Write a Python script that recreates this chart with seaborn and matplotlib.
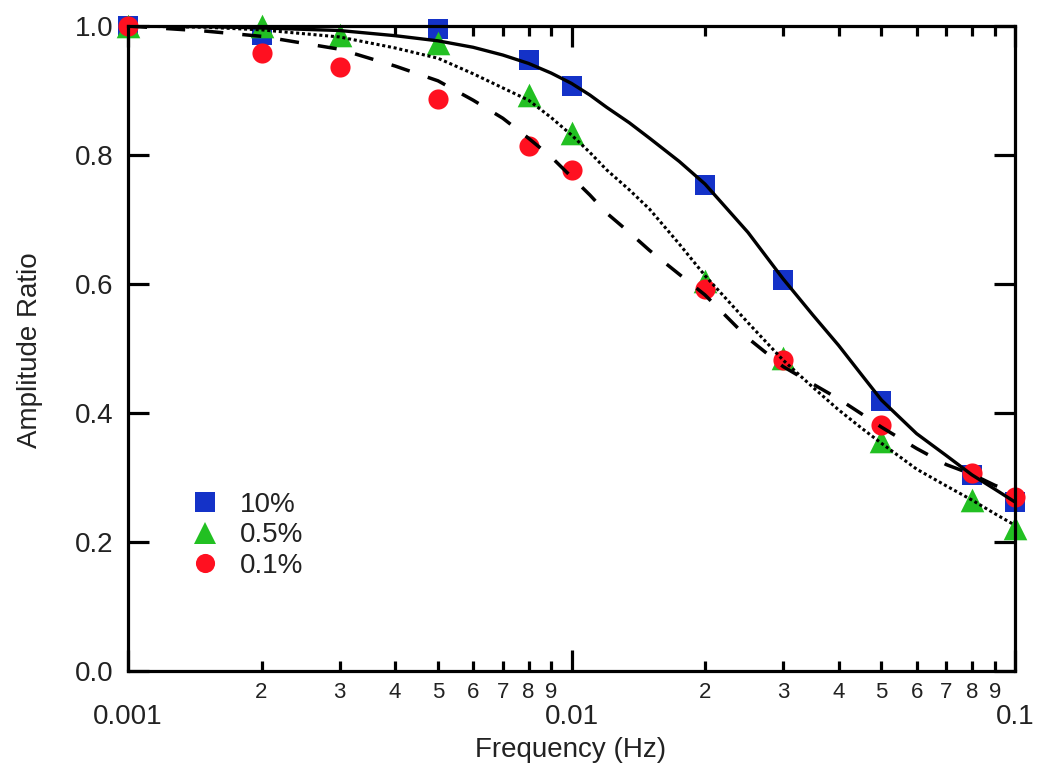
import numpy as np
import pandas as pd
import matplotlib
matplotlib.use("Agg")
import matplotlib.pyplot as plt
from matplotlib.ticker import FixedLocator, FixedFormatter, NullFormatter
from matplotlib.lines import Line2D
import seaborn as sns

# ---- measured amplitude ratios ----
freq = [0.001, 0.002, 0.003, 0.005, 0.008, 0.01, 0.02, 0.03, 0.05, 0.08, 0.1]
amp_10 = [1.000, 0.986, None, 0.996, 0.947, 0.907, 0.753, 0.606, 0.419, 0.304, 0.262]
amp_05 = [1.000, 1.000, 0.986, 0.974, 0.893, 0.834, 0.605, 0.486, 0.357, 0.265, 0.222]
amp_01 = [1.000, 0.958, 0.936, 0.887, 0.814, 0.777, 0.592, 0.482, 0.381, 0.307, 0.270]

# ---- model curves ----
curve_freq = [0.001, 0.0015, 0.002, 0.003, 0.004, 0.005, 0.006, 0.007, 0.008, 0.009,
              0.01, 0.011, 0.012, 0.0135, 0.015, 0.0175, 0.02, 0.025, 0.03, 0.035,
              0.04, 0.045, 0.05, 0.06, 0.07, 0.08, 0.09, 0.1]
fit_10 = [1.000, 0.999, 0.997, 0.993, 0.985, 0.977, 0.967, 0.955, 0.942, 0.927,
          0.911, 0.893, 0.874, 0.850, 0.826, 0.790, 0.755, 0.680, 0.608, 0.552,
          0.505, 0.460, 0.420, 0.368, 0.334, 0.304, 0.282, 0.262]
fit_05 = [1.000, 0.998, 0.994, 0.983, 0.966, 0.950, 0.926, 0.904, 0.885, 0.858,
          0.831, 0.804, 0.777, 0.746, 0.716, 0.662, 0.613, 0.540, 0.482, 0.440,
          0.405, 0.377, 0.353, 0.313, 0.287, 0.265, 0.244, 0.226]
fit_01 = [1.000, 0.992, 0.984, 0.964, 0.938, 0.915, 0.885, 0.857, 0.826, 0.797,
          0.766, 0.738, 0.710, 0.680, 0.652, 0.615, 0.583, 0.516, 0.472, 0.445,
          0.422, 0.399, 0.378, 0.345, 0.320, 0.305, 0.288, 0.276]

series_names = ["10%", "0.5%", "0.1%"]
series_colors = ["#1432c8", "#22c022", "#ff1020"]
series_markers = ["s", "^", "o"]
series_sizes = [14.5, 17.0, 14.5]
line_styles = ["-", (0, (1, 0.9)), (0, (5.5, 5.5))]
line_widths = [2.4, 2.2, 2.5]

y_ticks = [0.0, 0.2, 0.4, 0.6, 0.8, 1.0]
y_tick_labels = ["0.0", "0.2", "0.4", "0.6", "0.8", "1.0"]
x_major = [0.001, 0.01, 0.1]
x_major_labels = ["0.001", "0.01", "0.1"]
x_minor_digits = [2, 3, 4, 5, 6, 7, 8, 9]

sns.set_theme(style="ticks")
plt.rcParams["font.family"] = ["Liberation Sans", "DejaVu Sans"]

fig = plt.figure(figsize=(10.39, 7.80), dpi=100)
ax = fig.add_axes([128 / 1039, 109 / 780, 887 / 1039, 645 / 780])

points = pd.DataFrame({"freq": freq, "10%": amp_10, "0.5%": amp_05, "0.1%": amp_01})
curves = pd.DataFrame({"freq": curve_freq, "10%": fit_10, "0.5%": fit_05, "0.1%": fit_01})

for name, col, mk, ms in zip(series_names, series_colors, series_markers, series_sizes):
    d = points[["freq", name]].dropna()
    sns.scatterplot(data=d, x="freq", y=name, ax=ax, marker=mk, color=col,
                    s=ms ** 2, linewidth=0, clip_on=False, zorder=1, legend=False)

for name, ls, lw in zip(series_names, line_styles, line_widths):
    sns.lineplot(data=curves, x="freq", y=name, ax=ax, color="black",
                 linestyle=ls, linewidth=lw, zorder=2, legend=False)

ax.set_xscale("log")
ax.set_xlim(0.001, 0.1)
ax.set_ylim(0.0, 1.0)

ax.xaxis.set_major_locator(FixedLocator(x_major))
ax.xaxis.set_major_formatter(FixedFormatter(x_major_labels))
minor_pos = [d * 10.0 ** e for e in (-3, -2) for d in x_minor_digits]
minor_lab = [str(d) for e in (-3, -2) for d in x_minor_digits]
ax.xaxis.set_minor_locator(FixedLocator(minor_pos))
ax.xaxis.set_minor_formatter(FixedFormatter(minor_lab))

ax.yaxis.set_major_locator(FixedLocator(y_ticks))
ax.yaxis.set_major_formatter(FixedFormatter(y_tick_labels))
ax.yaxis.set_minor_formatter(NullFormatter())

for side in ["left", "right", "top", "bottom"]:
    ax.spines[side].set_visible(True)
    ax.spines[side].set_linewidth(2.3)
    ax.spines[side].set_color("black")

ax.tick_params(axis="x", which="major", direction="in", length=15, width=2.3,
               top=True, bottom=True, labelsize=20, pad=24, colors="black",
               labelcolor="#222222")
ax.tick_params(axis="x", which="minor", direction="in", length=7.5, width=2.3,
               top=True, bottom=True, labelsize=16, pad=8, colors="black",
               labelcolor="#222222")
ax.tick_params(axis="y", which="major", direction="in", length=15, width=2.3,
               left=True, right=True, labelsize=20, pad=10.5, colors="black",
               labelcolor="#222222")
ax.tick_params(axis="y", which="minor", left=False, right=False)

ax.set_xlabel("Frequency (Hz)", fontsize=20, va="center", color="#222222")
ax.xaxis.set_label_coords(0.4995, -0.1225)
ax.set_ylabel("Amplitude Ratio", fontsize=20, va="center", color="#222222")
ax.yaxis.set_label_coords(-0.1105, 0.497)
ax.grid(False)

handles = [Line2D([], [], linestyle="none", marker=mk, color=col, markersize=ms * 0.95,
                  markeredgewidth=0)
           for col, mk, ms in zip(series_colors, series_markers, series_sizes)]
ax.legend(handles, series_names, loc="upper left", bbox_to_anchor=(0.0555, 0.299),
          frameon=False, fontsize=20, handlelength=1.0, handletextpad=0.75,
          labelspacing=0.16, borderpad=0.0, labelcolor="#222222")

fig.savefig("out.png", dpi=100, facecolor="white")
